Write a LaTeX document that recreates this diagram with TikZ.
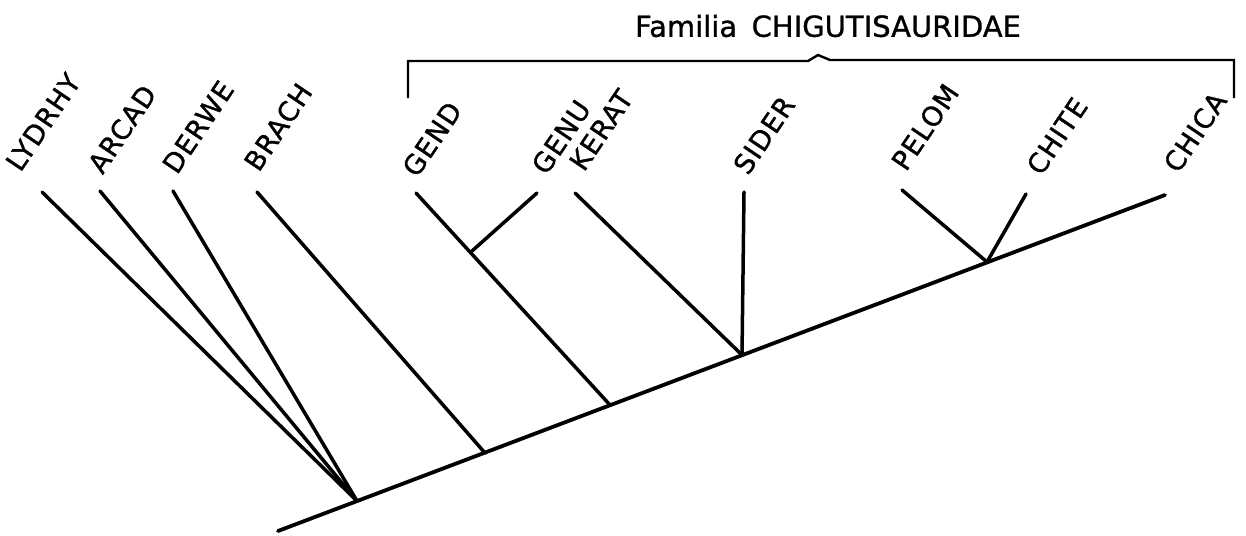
\documentclass[tikz,border=0pt]{standalone}
\usepackage{fontspec}
\setmainfont{DejaVu Sans}
\newfontfamily\labelfont[LetterSpace=4,FakeBold=1.2]{DejaVu Sans}
\newfontfamily\titlefont[FakeBold=1]{DejaVu Sans}
\begin{document}
\begin{tikzpicture}[x=1pt,y=-1pt,
  branch/.style={line width=3.5pt, line cap=round, line join=round},
  stem/.style={line width=3.8pt, line cap=round},
  taxon/.style={rotate=56, inner sep=0pt, font=\labelfont\fontsize{27}{30}\selectfont},
  bracket/.style={line width=2.4pt, line join=miter},
  title/.style={inner sep=0pt, font=\titlefont\fontsize{29}{32}\selectfont}]
\useasboundingbox (0,0) rectangle (1246,535);

% main stem and its branching points
\coordinate (root) at (278,531);
\coordinate (n1) at (357,501);
\coordinate (n2) at (485,453);
\coordinate (n3) at (610,405);
\coordinate (n4) at (742,355);
\coordinate (n5) at (987,262);
\coordinate (chica) at (1165,195);

% branch tips
\coordinate (lydrhy) at (42,192);
\coordinate (arcad) at (100,191);
\coordinate (derwe) at (173,191);
\coordinate (brach) at (257,192);
\coordinate (gend) at (416,193);
\coordinate (genu) at (537,193);
\coordinate (kerat) at (575,193);
\coordinate (sider) at (744,192);
\coordinate (pelom) at (902,190);
\coordinate (chite) at (1026,194);
\coordinate (g1) at (472,251);

% taxon labels
\node[taxon] (Llydrhy) at (43,122) {LYDRHY};
\node[taxon] (Larcad) at (122,129) {ARCAD};
\node[taxon] (Lderwe) at (198,127) {DERWE};
\node[taxon] (Lbrach) at (278,127) {BRACH};
\node[taxon] (Lgend) at (432,139) {GEND};
\node[taxon] (Lgenu) at (561,137) {GENU};
\node[taxon] (Lkerat) at (601,130) {KERAT};
\node[taxon] (Lsider) at (764,135) {SIDER};
\node[taxon] (Lpelom) at (925,127) {PELOM};
\node[taxon] (Lchite) at (1057,136) {CHITE};
\node[taxon] (Lchica) at (1195,132) {CHICA};

% tree
\draw[stem] (root) -- (chica);
\draw[branch] (lydrhy) -- (n1);
\draw[branch] (arcad) -- (n1);
\draw[branch] (derwe) -- (n1);
\draw[branch] (brach) -- (n2);
\draw[branch] (gend) -- (n3);
\draw[branch] (genu) -- (g1);
\draw[branch] (kerat) -- (n4);
\draw[branch] (sider) -- (n4);
\draw[branch] (pelom) -- (n5);
\draw[branch] (chite) -- (n5);

% family bracket
\coordinate (bl) at (408,98);
\coordinate (br) at (1234,98);
\draw[bracket] (bl) -- (408,61) -- (808,61) -- (818,55) -- (830,60) -- (1234,60) -- (br);
\node[title] (fam) at (828,26) {Familia\enspace CHIGUTISAURIDAE};
\end{tikzpicture}
\end{document}
